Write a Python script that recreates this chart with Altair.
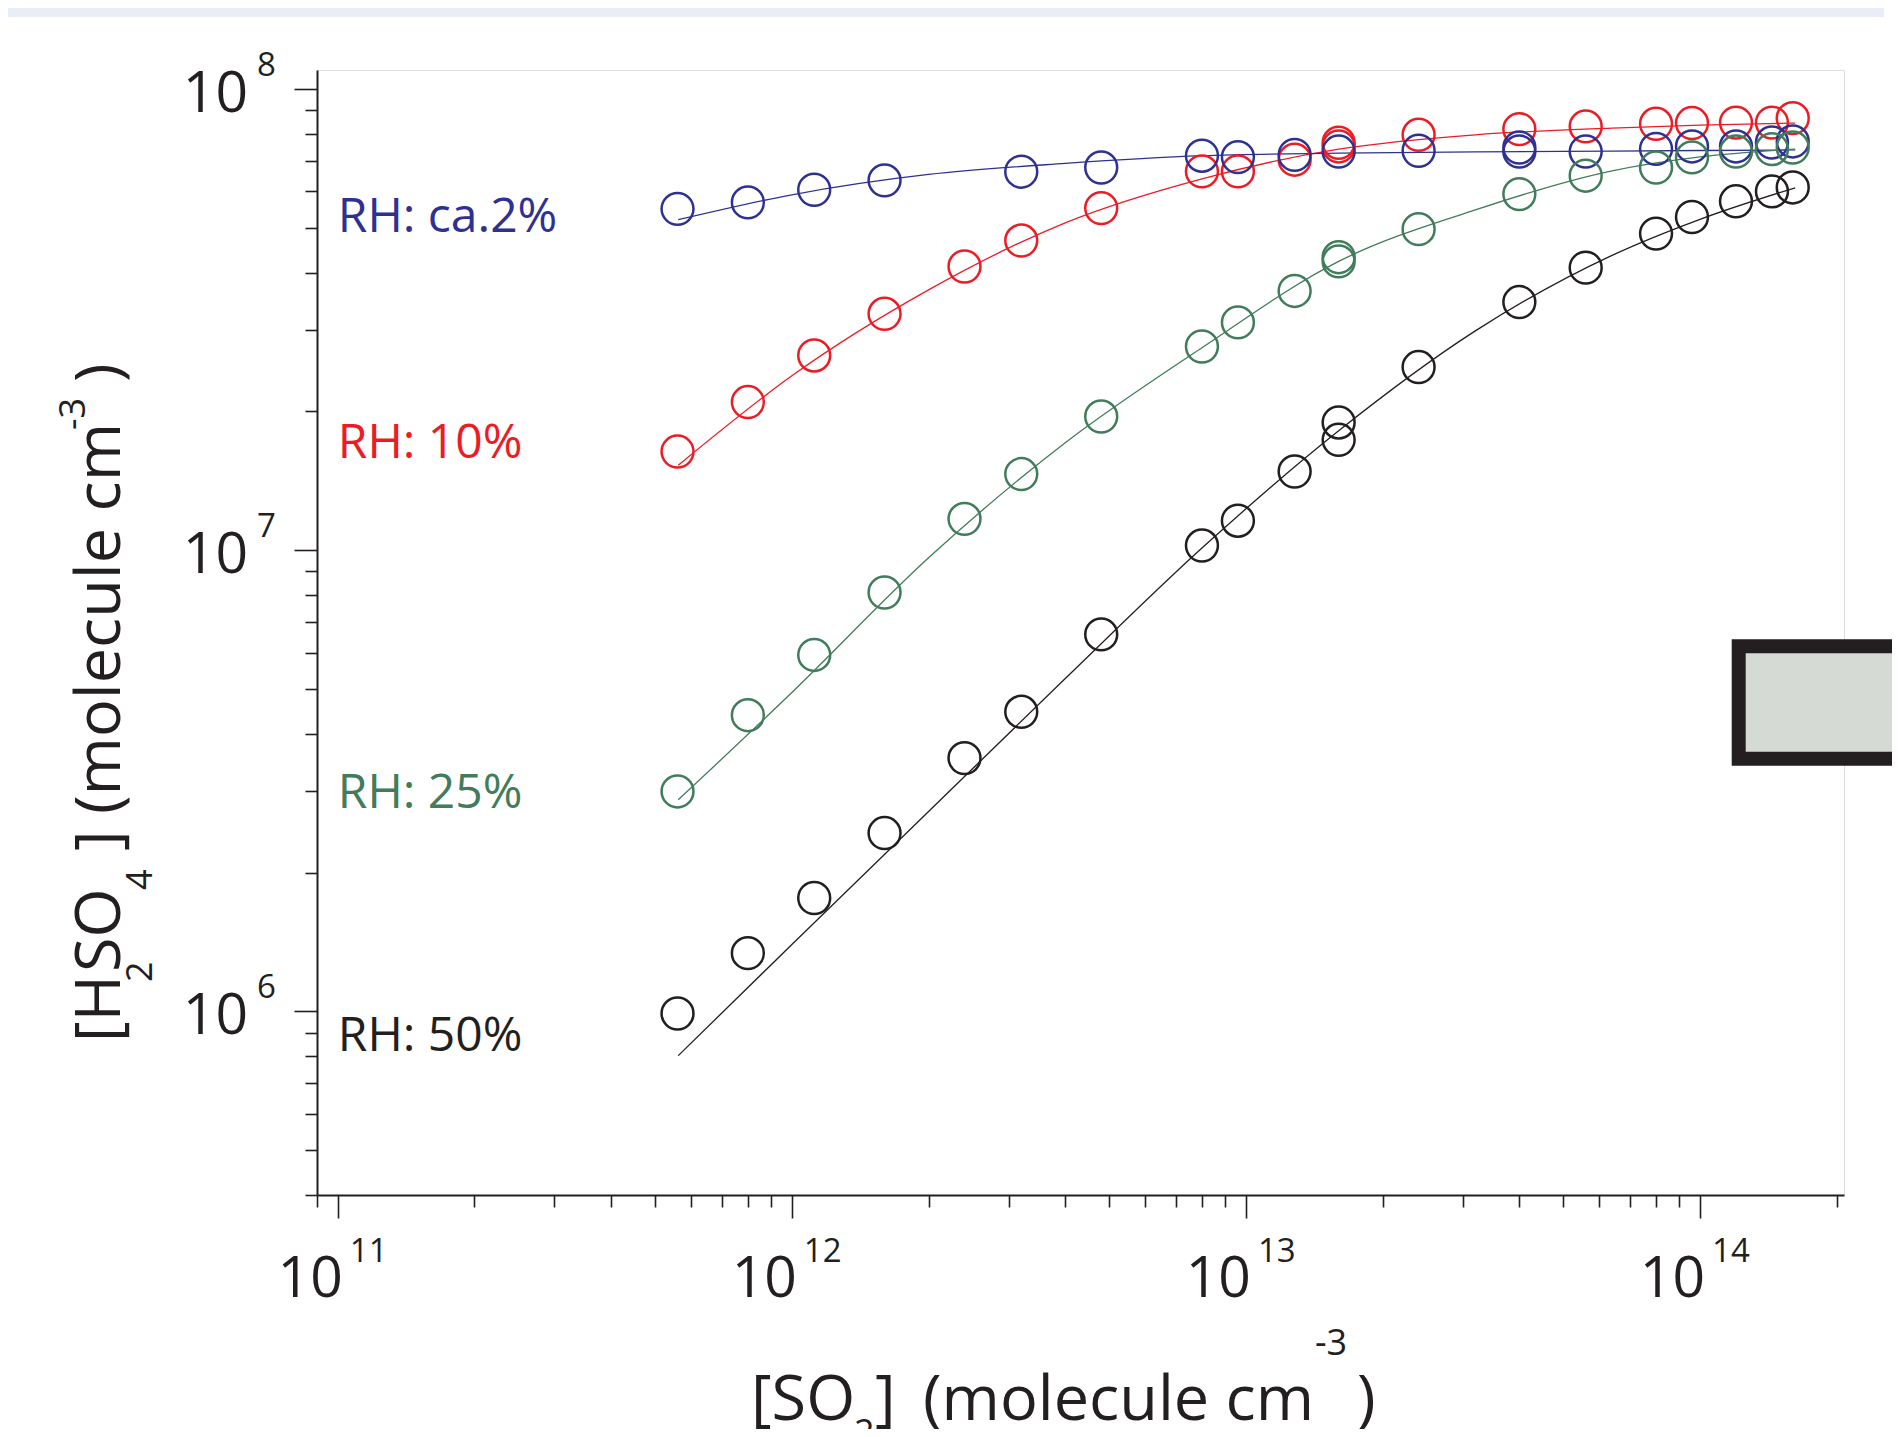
import altair as alt
import pandas as pd

# ---------------- data ----------------
so2 = [5.6e11, 8.0e11, 1.12e12, 1.6e12, 2.4e12, 3.2e12, 4.8e12, 8.0e12, 9.6e12,
       1.28e13, 1.6e13, 2.4e13, 4.0e13, 5.6e13, 8.0e13, 9.6e13, 1.2e14, 1.44e14, 1.6e14]

blue_x = [5.6e11, 8.0e11, 1.12e12, 1.6e12, 3.2e12, 4.8e12, 8.0e12, 9.6e12, 1.28e13,
          1.6e13, 2.4e13, 4.0e13, 4.0e13, 5.6e13, 8.0e13, 9.6e13, 1.2e14, 1.44e14, 1.6e14]
blue_y = [5.50e7, 5.68e7, 6.05e7, 6.34e7, 6.62e7, 6.76e7, 7.17e7, 7.12e7, 7.20e7,
          7.32e7, 7.35e7, 7.32e7, 7.47e7, 7.32e7, 7.42e7, 7.51e7, 7.51e7, 7.66e7, 7.70e7]

red_x = so2 + [1.6e13]
red_y = [1.637e7, 2.096e7, 2.645e7, 3.257e7, 4.124e7, 4.695e7, 5.52e7, 6.63e7, 6.63e7,
         7.03e7, 7.51e7, 7.96e7, 8.19e7, 8.30e7, 8.41e7, 8.44e7, 8.46e7, 8.46e7, 8.65e7,
         7.65e7]

green_x = so2 + [1.6e13]
green_y = [3.0e6, 4.39e6, 5.93e6, 8.10e6, 1.17e7, 1.463e7, 1.95e7, 2.766e7, 3.12e7,
           3.65e7, 4.23e7, 4.97e7, 5.92e7, 6.49e7, 6.76e7, 7.11e7, 7.32e7, 7.41e7, 7.47e7,
           4.32e7]

black_x = so2 + [1.6e13]
black_y = [9.90e5, 1.338e6, 1.762e6, 2.437e6, 3.543e6, 4.465e6, 6.57e6, 1.024e7, 1.159e7,
           1.482e7, 1.893e7, 2.496e7, 3.453e7, 4.10e7, 4.86e7, 5.28e7, 5.71e7, 6.00e7, 6.12e7,
           1.736e7]

# fitted curves
fit_x = [5.62e11, 1e12, 2e12, 4e12, 8e12, 1.6e13, 3.2e13, 6.4e13, 1e14, 1.62e14]
fit_blue = [5.21e7, 5.90e7, 6.53e7, 6.90e7, 7.17e7, 7.26e7, 7.31e7, 7.34e7, 7.36e7, 7.38e7]
fit_red = [1.529e7, 2.39e7, 3.67e7, 5.13e7, 6.39e7, 7.41e7, 7.96e7, 8.23e7, 8.35e7, 8.44e7]
fit_green = [2.877e6, 4.915e6, 9.63e6, 1.711e7, 2.749e7, 4.23e7, 5.47e7, 6.65e7, 7.13e7, 7.41e7]
fit_black = [8.02e5, 1.397e6, 2.713e6, 5.27e6, 1.011e7, 1.816e7, 2.99e7, 4.36e7, 5.22e7, 6.11e7]

series_names = ["RH: ca.2%", "RH: 10%", "RH: 25%", "RH: 50%"]
series_colors = ["#2E3192", "#ED1C24", "#417C5B", "#231F20"]
label_x = [1.0e11, 1.0e11, 1.0e11, 1.0e11]
label_y = [4.91e7, 1.587e7, 2.765e6, 8.22e5]

x_major = [1e11, 1e12, 1e13, 1e14]
x_exp = ["11", "12", "13", "14"]
y_major = [1e6, 1e7, 1e8]
y_exp = ["6", "7", "8"]

x_ticks = [9e10] + [m * 10.0 ** e for e in range(11, 14) for m in range(1, 10)] + [1e14, 2e14]
y_ticks = [m * 10.0 ** e for e in range(5, 8) for m in range(1, 10) if m * 10.0 ** e >= 4e5] + [1e8]

# ---------------- build tables ----------------
pts = pd.concat([
    pd.DataFrame({"x": xs, "y": ys, "s": name})
    for xs, ys, name in [(red_x, red_y, series_names[1]), (blue_x, blue_y, series_names[0]),
                         (green_x, green_y, series_names[2]), (black_x, black_y, series_names[3])]
])
fits = pd.concat([
    pd.DataFrame({"x": fit_x, "y": ys, "s": name})
    for ys, name in [(fit_red, series_names[1]), (fit_blue, series_names[0]),
                     (fit_green, series_names[2]), (fit_black, series_names[3])]
])
labels = pd.DataFrame({"x": label_x, "y": label_y, "t": series_names, "c": series_colors})
xlab = pd.DataFrame({"x": x_major, "e": x_exp})
ylab = pd.DataFrame({"y": y_major, "e": y_exp})

# ---------------- layout ----------------
W, H = 1527, 1125
INK = "#231F20"
FONT = "Open Sans"

xscale = alt.Scale(type="log", domain=[9e10, 2.075e14], nice=False)
yscale = alt.Scale(type="log", domain=[4e5, 1.1e8], nice=False)
major_test = "abs(log(datum.value)/LN10 - round(log(datum.value)/LN10)) < 0.000001"
tick_size = {"condition": {"test": major_test, "value": 23}, "value": 12}

x_axis = alt.Axis(values=x_ticks, labels=False, title=None, grid=False,
                  domainColor=INK, domainWidth=2, tickColor=INK, tickWidth=1.6,
                  tickSize=tick_size)
y_axis = alt.Axis(values=y_ticks, labels=False, title=None, grid=False,
                  domainColor=INK, domainWidth=2, tickColor=INK, tickWidth=1.6,
                  tickSize=tick_size)


def X(f="x"):
    return alt.X(f, type="quantitative", scale=xscale, axis=x_axis)


def Y(f="y"):
    return alt.Y(f, type="quantitative", scale=yscale, axis=y_axis)


color = alt.Color("s:N", scale=alt.Scale(domain=series_names, range=series_colors), legend=None)

lines = alt.Chart(fits).mark_line(strokeWidth=1.3, interpolate="monotone").encode(
    x=X(), y=Y(), color=color, detail="s:N")

points = alt.Chart(pts).mark_point(shape="circle", filled=False, size=1018, strokeWidth=2.5,
                                   opacity=1).encode(x=X(), y=Y(), color=color)

rh = alt.Chart(labels).mark_text(align="left", baseline="alphabetic", fontSize=48, font=FONT).encode(
    x=X(), y=Y(), text="t:N", color=alt.Color("c:N", scale=None))

# tick labels with superscripts
xl10 = alt.Chart(xlab).mark_text(align="right", baseline="alphabetic", fontSize=57, font=FONT,
                                 color=INK, dx=5, text="10").encode(x=X(), y=alt.value(H + 101.5))
xlexp = alt.Chart(xlab).mark_text(align="left", baseline="alphabetic", fontSize=33, font=FONT,
                                  color=INK, dx=12).encode(x=X(), y=alt.value(H + 66.5), text="e:N")
yl10 = alt.Chart(ylab).mark_text(align="right", baseline="alphabetic", fontSize=57, font=FONT,
                                 color=INK, dy=23, text="10").encode(x=alt.value(-69), y=Y())
ylexp = alt.Chart(ylab).mark_text(align="left", baseline="alphabetic", fontSize=33, font=FONT,
                                  color=INK, dy=-13.5).encode(x=alt.value(-60), y=Y(), text="e:N")

one = pd.DataFrame({"k": [0]})


def piece(txt, x, y, size, angle=0):
    return alt.Chart(one).mark_text(text=txt, align="left", baseline="alphabetic", fontSize=size,
                                    font=FONT, color=INK, angle=angle).encode(
        x=alt.value(x), y=alt.value(y))


# x-axis title  [SO2]  (molecule cm-3 )
xt = [
    piece("[SO", 434, 1350, 63),
    piece("2", 537, 1375, 36),
    piece("]", 558, 1350, 63),
    piece("(molecule cm", 606, 1350, 63),
    piece("-3", 998, 1285, 36),
    piece(")", 1040, 1350, 63),
]
# y-axis title  [H2SO4] (molecule cm-3 )
yt = [
    piece("[H", -197, 972, 63, 270),
    piece("2", -165, 912, 36, 270),
    piece("SO", -197, 902, 63, 270),
    piece("4", -165, 820, 36, 270),
    piece("] (molecule cm", -197, 781, 63, 270),
    piece("-3", -232, 360, 36, 270),
    piece(")", -197, 312, 63, 270),
]

band = alt.Chart(one).mark_rect(color="#E8EDF7").encode(
    x=alt.value(-309), x2=alt.value(1567), y=alt.value(-62), y2=alt.value(-53))
box = alt.Chart(one).mark_rect(fill="#D5DAD5", stroke=INK, strokeWidth=14).encode(
    x=alt.value(1421.7), x2=alt.value(1700), y=alt.value(576.3), y2=alt.value(688.7))

chart = alt.layer(
    band, box, lines, points, rh, xl10, xlexp, yl10, ylexp, *xt, *yt
).properties(
    width=W, height=H,
    autosize=alt.AutoSizeParams(type="none"),
    padding={"left": 309, "top": 62, "right": 48, "bottom": 234},
).configure_view(stroke=None).configure(font=FONT)

chart.save("out.html", embed_options={"renderer": "svg", "actions": False})
